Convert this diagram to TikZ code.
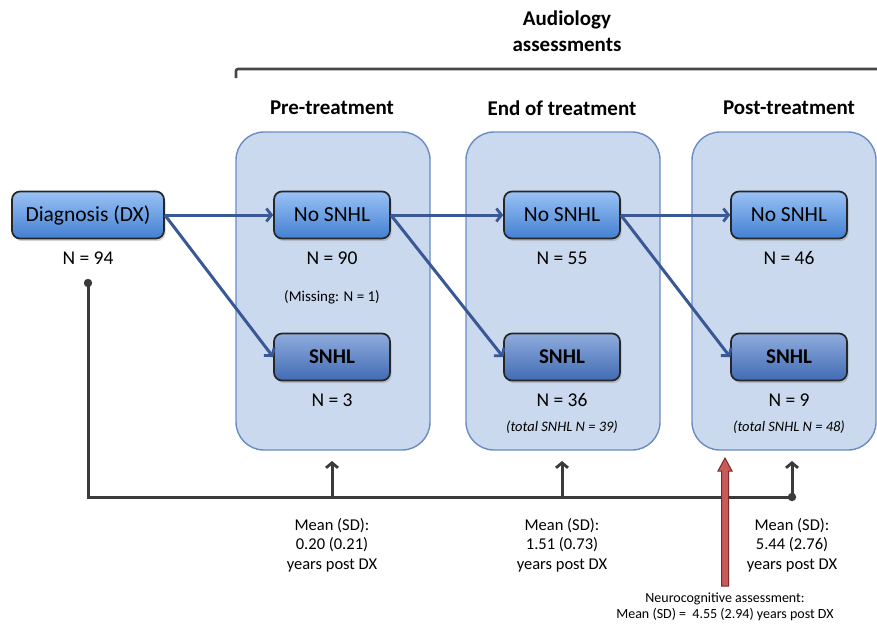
\documentclass[tikz,border=0pt]{standalone}
\usepackage{fontspec}
\setmainfont{Carlito}
\usetikzlibrary{arrows.meta,shadows}
\definecolor{panelfill}{HTML}{CAD9EE}
\definecolor{paneldraw}{HTML}{6A8CC4}
\definecolor{boxtop}{HTML}{9AC2F5}
\definecolor{boxbot}{HTML}{437FD2}
\definecolor{sboxtop}{HTML}{8FACDC}
\definecolor{sboxbot}{HTML}{416BB4}
\definecolor{arrowblue}{HTML}{3B5896}
\definecolor{tlgray}{HTML}{3A3A3A}
\definecolor{redfill}{HTML}{C85A5A}
\definecolor{reddraw}{HTML}{7A2A2A}
\tikzset{
  panel/.style={draw=paneldraw, fill=panelfill, line width=1.4pt, rounded corners=28pt},
  nbox/.style={draw=black!85, line width=1.7pt, rounded corners=8pt, top color=boxtop, bottom color=boxbot,
    minimum width=116pt, minimum height=47pt, inner sep=0pt, font=\fontsize{21.5}{25}\selectfont,
    drop shadow={shadow xshift=1.5pt, shadow yshift=-2.5pt, opacity=0.35}},
  sbox/.style={nbox, top color=sboxtop, bottom color=sboxbot, font=\fontsize{21}{25}\selectfont\bfseries},
  nlab/.style={font=\fontsize{19.5}{23}\selectfont, inner sep=0pt},
  tlab/.style={font=\fontsize{14.5}{17}\selectfont\itshape, inner sep=0pt},
  hdr/.style={font=\fontsize{21}{25}\selectfont\bfseries, inner sep=0pt, align=center},
  meanlab/.style={font=\fontsize{16.5}{19.5}\selectfont, inner sep=0pt, align=center},
  barrow/.style={draw=arrowblue, line width=3pt, -{Straight Barb[length=5pt,width=13pt,line width=2.8pt]}},
  tline/.style={draw=tlgray, line width=3pt},
  tarrow/.style={tline, -{Straight Barb[length=5pt,width=12pt,line width=2.8pt]}}
}
\begin{document}
\begin{tikzpicture}[x=1pt,y=-1pt]
\useasboundingbox (0,0) rectangle (877,625);
% header
\node[hdr] (aud) at (567,31) {Audiology\\[1pt]assessments};
\coordinate (brL) at (236,78);
\coordinate (brR) at (877,69);
\draw[draw=black!72, line width=2.6pt, rounded corners=2pt] (brL) |- (brR);
\node[hdr] (h1) at (332,108) {Pre-treatment};
\node[hdr] (h2) at (562,108) {End of treatment};
\node[hdr] (h3) at (789,108) {Post-treatment};
% panels
\draw[panel] (236,132) rectangle (430,450);
\draw[panel] (466,132) rectangle (660,450);
\draw[panel] (692,132) rectangle (876,450);
% boxes
\node[nbox, minimum width=152pt] (dx) at (88,215) {Diagnosis (DX)};
\node[nlab] (ndx) at (88,258) {N = 94};
\node[nbox] (ns1) at (332,215) {No SNHL};
\node[nbox] (ns2) at (562,215) {No SNHL};
\node[nbox] (ns3) at (789,215) {No SNHL};
\node[sbox] (s1) at (332,357) {SNHL};
\node[sbox] (s2) at (562,357) {SNHL};
\node[sbox] (s3) at (789,357) {SNHL};
\node[nlab] (nn1) at (332,258) {N = 90};
\node[nlab] (nn2) at (562,258) {N = 55};
\node[nlab] (nn3) at (789,258) {N = 46};
\node[font=\fontsize{15}{18}\selectfont, inner sep=0pt] (miss) at (332,297) {(Missing: N = 1)};
\node[nlab] (ns1n) at (332,400) {N = 3};
\node[nlab] (ns2n) at (562,400) {N = 36};
\node[nlab] (ns3n) at (789,400) {N = 9};
\node[tlab] (tot2) at (562,427) {(total SNHL N = 39)};
\node[tlab] (tot3) at (789,427) {(total SNHL N = 48)};
% blue arrows
\draw[barrow] (dx.east) -- (ns1.west);
\draw[barrow] (dx.east) -- (s1.west);
\draw[barrow] (ns1.east) -- (ns2.west);
\draw[barrow] (ns1.east) -- (s2.west);
\draw[barrow] (ns2.east) -- (ns3.west);
\draw[barrow] (ns2.east) -- (s3.west);
% timeline
\coordinate (t0) at (88,283);
\coordinate (tend) at (792,497);
\coordinate (a1) at (332,497);
\coordinate (a2) at (562,497);
\draw[tline] (t0) |- (tend);
\fill[tlgray] (t0) circle (4.2pt);
\fill[tlgray] (tend) circle (4.2pt);
\draw[tarrow] (a1) -- ++(0,-36);
\draw[tarrow] (a2) -- ++(0,-36);
\draw[tarrow] (tend) -- ++(0,-36);
% red arrow
\draw[fill=redfill, draw=reddraw, line width=1pt, line join=miter]
  (721.5,586) -- (721.5,471) -- (718,471) -- (725,458) -- (732,471) -- (728.5,471) -- (728.5,586) -- cycle;
% mean labels
\node[meanlab] (m1) at (332,545) {Mean (SD):\\0.20 (0.21)\\years post DX};
\node[meanlab] (m2) at (562,545) {Mean (SD):\\1.51 (0.73)\\years post DX};
\node[meanlab] (m3) at (792,545) {Mean (SD):\\5.44 (2.76)\\years post DX};
\node[font=\fontsize{14}{16.5}\selectfont, inner sep=0pt, align=center] (neuro) at (725,607)
  {Neurocognitive assessment:\\Mean (SD) =\ \ 4.55 (2.94) years post DX};
\end{tikzpicture}
\end{document}
